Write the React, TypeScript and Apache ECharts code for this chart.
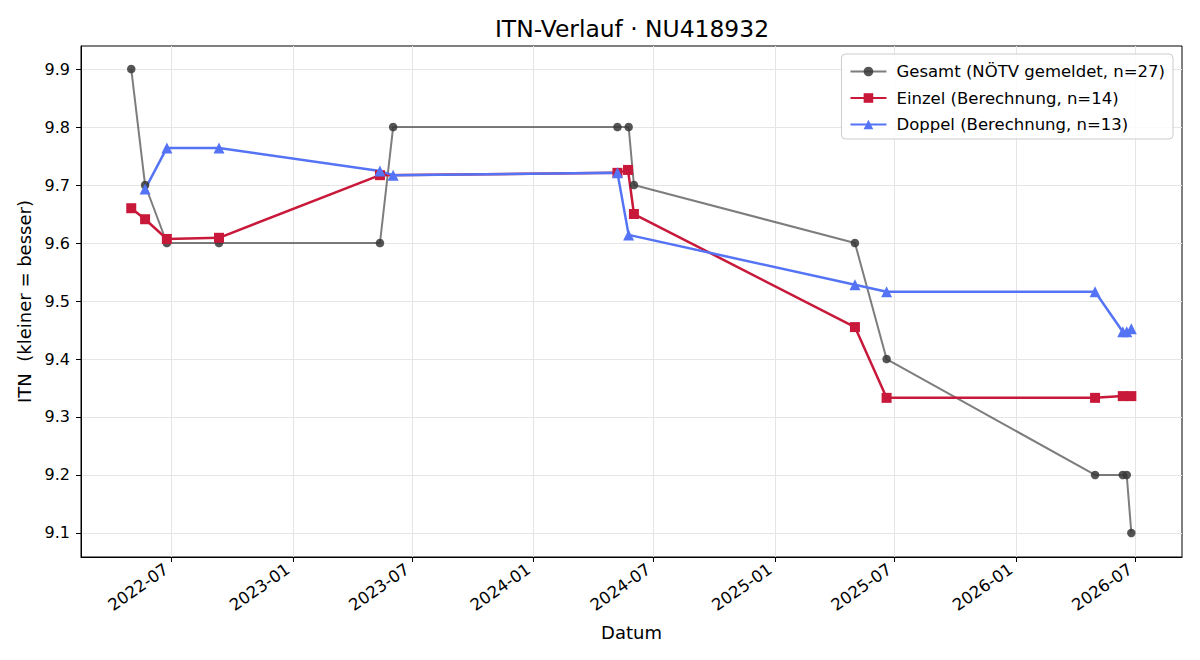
import React, { useEffect, useRef } from "react";
import * as echarts from "echarts";

const gesamtDates = ["2022-05-01","2022-05-22","2022-06-24","2022-09-11","2023-05-13","2023-06-02","2024-05-07","2024-05-24","2024-06-01","2025-05-02","2025-06-19","2026-05-01","2026-06-12","2026-06-18","2026-06-25"];
const gesamtValues = [9.9,9.7,9.6,9.6,9.6,9.8,9.8,9.8,9.7,9.6,9.4,9.2,9.2,9.2,9.1];

const einzelDates = ["2022-05-01","2022-05-22","2022-06-24","2022-09-11","2023-05-13","2024-05-07","2024-05-23","2024-06-01","2025-05-02","2025-06-19","2026-05-01","2026-06-12","2026-06-25"];
const einzelValues = [9.66,9.641,9.607,9.609,9.717,9.721,9.726,9.65,9.455,9.333,9.333,9.336,9.336];

const doppelDates = ["2022-05-22","2022-06-24","2022-09-11","2023-05-13","2023-06-02","2024-05-07","2024-05-24","2025-05-02","2025-06-19","2026-05-01","2026-06-12","2026-06-18","2026-06-25"];
const doppelValues = [9.693,9.764,9.764,9.724,9.717,9.721,9.614,9.528,9.516,9.516,9.447,9.447,9.452];

const xTickLabels = ["2022-07","2023-01","2023-07","2024-01","2024-07","2025-01","2025-07","2026-01","2026-07"];
const yTicks = [9.1,9.2,9.3,9.4,9.5,9.6,9.7,9.8,9.9];

const seriesNames = ["Gesamt (NÖTV gemeldet, n=27)","Einzel (Berechnung, n=14)","Doppel (Berechnung, n=13)"];

const ts = (s: string) => {
  const [y, m, d] = s.split("-").map(Number);
  return Date.UTC(y, m - 1, d || 1);
};
const pairs = (dates: string[], vals: number[]) => dates.map((d, i) => [ts(d), vals[i]]);

const FONT = "DejaVu Sans";

export default function App() {
  const ref = useRef<HTMLDivElement>(null);
  useEffect(() => {
    const chart = echarts.init(ref.current!, null, { renderer: "svg" });
    const xMin = Date.UTC(2022, 1, 13, 20);
    const xMax = Date.UTC(2026, 8, 9, 19);
    const xTicks = xTickLabels.map((t) => ts(t));
    chart.setOption({
      animation: false,
      backgroundColor: "#ffffff",
      textStyle: { fontFamily: FONT },
      title: {
        text: "ITN-Verlauf · NU418932",
        left: 627,
        top: 12,
        textAlign: "center",
        textStyle: { fontFamily: FONT, fontSize: 23.4, fontWeight: "normal", color: "#000" },
      },
      grid: {
        left: 81, right: 18, top: 46, bottom: 103,
        show: true, borderColor: "#000", borderWidth: 1, backgroundColor: "transparent",
      },
      legend: {
        orient: "vertical",
        right: 27,
        top: 54,
        padding: [9, 8, 6, 8],
        itemGap: 9.5,
        itemWidth: 36,
        itemHeight: 12,
        backgroundColor: "rgba(255,255,255,0.85)",
        borderColor: "#cccccc",
        borderWidth: 1,
        borderRadius: 4,
        textStyle: { fontFamily: FONT, fontSize: 16.5, color: "#000", padding: [0, 0, 0, 5] },
        data: seriesNames,
      },
      xAxis: {
        type: "value",
        min: xMin,
        max: xMax,
        name: "Datum",
        nameLocation: "middle",
        nameGap: 66,
        nameTextStyle: { fontFamily: FONT, fontSize: 18, color: "#000" },
        axisLine: { show: true, lineStyle: { color: "#000", width: 1 } },
        axisTick: { show: true, customValues: xTicks, length: 5, lineStyle: { color: "#000" } },
        axisLabel: {
          customValues: xTicks,
          rotate: 35,
          margin: 7,
          padding: [0, 6, 0, 0],
          fontFamily: FONT,
          fontSize: 16.5,
          color: "#000",
          formatter: (v: number) => {
            const d = new Date(v);
            return d.getUTCFullYear() + "-" + String(d.getUTCMonth() + 1).padStart(2, "0");
          },
        },
        splitLine: { show: true, lineStyle: { color: "#e5e5e5", width: 1 } },
      },
      yAxis: {
        type: "value",
        min: 9.0586,
        max: 9.9397,
        name: "ITN  (kleiner = besser)",
        nameLocation: "middle",
        nameGap: 48,
        nameTextStyle: { fontFamily: FONT, fontSize: 18, color: "#000" },
        axisLine: { show: true, lineStyle: { color: "#000", width: 1 } },
        axisTick: { show: true, customValues: yTicks, length: 5, lineStyle: { color: "#000" } },
        axisLabel: {
          customValues: yTicks,
          margin: 11,
          fontFamily: FONT,
          fontSize: 16,
          color: "#000",
          formatter: (v: number) => v.toFixed(1),
        },
        splitLine: { show: true, lineStyle: { color: "#e5e5e5", width: 1 } },
      },
      series: [
        {
          name: seriesNames[0],
          type: "line",
          data: pairs(gesamtDates, gesamtValues),
          symbol: "circle",
          symbolSize: 8.5,
          lineStyle: { color: "rgba(70,70,70,0.7)", width: 2 },
          itemStyle: { color: "rgba(55,55,55,0.85)" },
        },
        {
          name: seriesNames[1],
          type: "line",
          data: pairs(einzelDates, einzelValues),
          symbol: "rect",
          symbolSize: 10,
          lineStyle: { color: "#c8193a", width: 2.5 },
          itemStyle: { color: "#c8193a" },
        },
        {
          name: seriesNames[2],
          type: "line",
          data: pairs(doppelDates, doppelValues),
          symbol: "triangle",
          symbolSize: 11,
          lineStyle: { color: "#5574f5", width: 2.5 },
          itemStyle: { color: "#5574f5" },
        },
      ],
    });
    return () => chart.dispose();
  }, []);
  return <div ref={ref} style={{ position: "fixed", left: 0, top: 0, width: 1200, height: 660 }} />;
}
